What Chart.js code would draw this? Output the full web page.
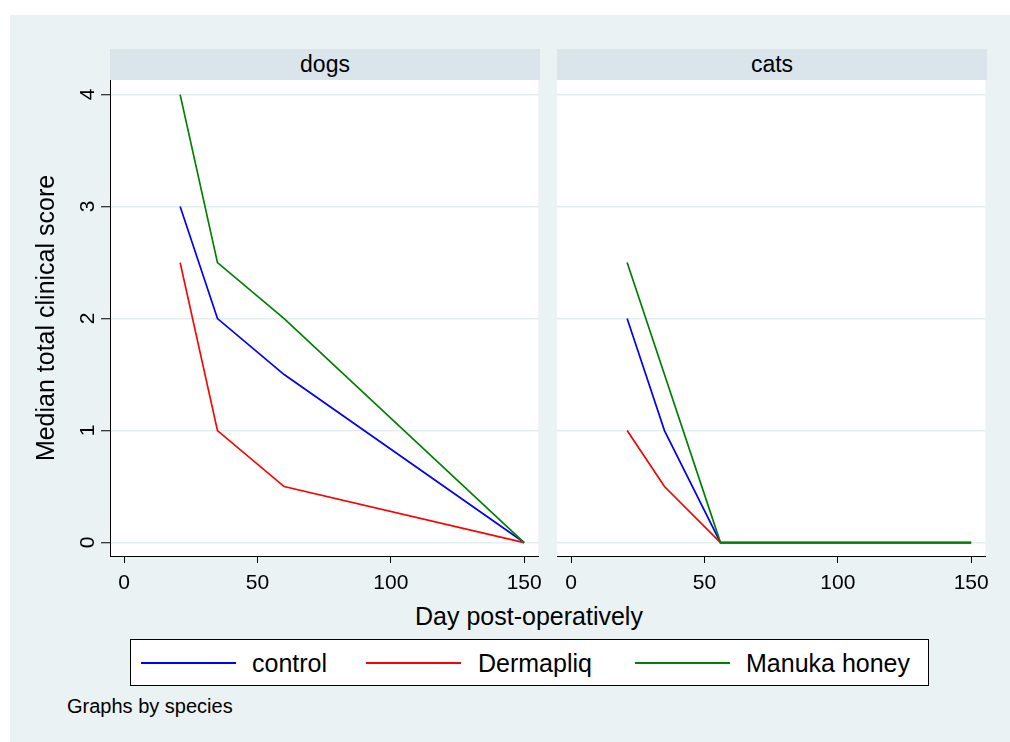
<!DOCTYPE html>
<html>
<head>
<meta charset="utf-8">
<script src="https://cdn.jsdelivr.net/npm/chart.js@4.4.1/dist/chart.umd.min.js"></script>
<style>
  body { margin: 0; background: #fff; font-family: "Liberation Sans", Arial, sans-serif; }
  #page { position: relative; width: 1010px; height: 742px; overflow: hidden; }
  #bg { position: absolute; left: 10px; top: 15px; width: 1000px; height: 727px; background: #EAF2F3; }
  .strip { position: absolute; top: 49px; height: 31px; background: #D9E5EA; color: #000;
           font-size: 23px; line-height: 31px; text-align: center; }
  .abs { position: absolute; white-space: nowrap; color: #000; }
  canvas { position: absolute; }
  #legend { position: absolute; left: 130px; top: 639px; width: 797px; height: 45px;
            background: #fff; border: 1px solid #000; }
  .sw { position: absolute; height: 2px; }
</style>
</head>
<body>
<div id="page">
  <div id="bg"></div>
  <div class="strip" style="left:110px;width:430px;" id="strip-dogs"></div>
  <div class="strip" style="left:557px;width:430px;" id="strip-cats"></div>
  <canvas id="dogs" width="530" height="556" style="left:20px;top:44px;width:530px;height:556px;"></canvas>
  <canvas id="cats" width="450" height="556" style="left:547px;top:44px;width:450px;height:556px;"></canvas>
  <div class="abs" id="xtitle" style="left:0;width:1058px;text-align:center;top:604px;font-size:25px;line-height:25px;"></div>
  <div id="legend"></div>
  <div class="abs" id="note" style="left:67px;top:696px;font-size:20px;line-height:20px;"></div>
</div>
<script>
// panels (by species)
const panels = ["dogs", "cats"];
const seriesNames = ["control", "Dermapliq", "Manuka honey"];
const seriesColors = ["#0000FF", "#FF0000", "#008000"];

// days post-op at which medians were taken
const dogDays = [21, 35, 60, 150];
const catDays = [21, 35, 56, 150];

// median total clinical score
const dogControl   = [3, 2, 1.5, 0];
const dogDermapliq = [2.5, 1, 0.5, 0];
const dogManuka    = [4, 2.5, 2, 0];

const catControl   = [2, 1, 0, 0];
const catDermapliq = [1, 0.5, 0, 0];
const catManuka    = [2.5, 1.5, 0, 0];

const xTicks = [0, 50, 100, 150];
const yTicks = [0, 1, 2, 3, 4];

const xTitle = "Day post-operatively";
const yTitle = "Median total clinical score";
const note = "Graphs by species";

const FONT = '"Liberation Sans", Arial, sans-serif';

// white plot region like stata's plotregion
const plotBg = {
  id: "plotBg",
  beforeDraw(chart) {
    const a = chart.chartArea;
    const c = chart.ctx;
    c.save();
    c.fillStyle = "#fff";
    c.fillRect(a.left, a.top, a.right - a.left, a.bottom - a.top);
    c.restore();
  }
};

function toPoints(xs, ys) {
  return xs.map((x, i) => ({ x: x, y: ys[i] }));
}

function makeDatasets(days, series) {
  return series.map((vals, i) => ({
    label: seriesNames[i],
    data: toPoints(days, vals),
    borderColor: seriesColors[i],
    borderWidth: 1.7,
    pointRadius: 0,
    tension: 0,
    fill: false,
    order: series.length - i   // later series on top, like stata
  }));
}

function makeChart(id, days, series, showY) {
  const ctx = document.getElementById(id).getContext("2d");
  return new Chart(ctx, {
    type: "line",
    data: { datasets: makeDatasets(days, series) },
    plugins: [plotBg],
    options: {
      responsive: false,
      animation: false,
      devicePixelRatio: 1,
      layout: { padding: { top: 36, right: 10, bottom: 0, left: showY ? 0 : 10 } },
      plugins: { legend: { display: false }, tooltip: { enabled: false } },
      scales: {
        x: {
          type: "linear",
          min: -5.3,
          max: 155.3,
          afterBuildTicks: s => { s.ticks = xTicks.map(v => ({ value: v })); },
          afterFit: s => { s.height = 44; },
          grid: { drawOnChartArea: false, color: "#000", tickColor: "#000", tickLength: 7, lineWidth: 1 },
          border: { display: true, color: "#000", width: 1 },
          ticks: { color: "#000", font: { family: FONT, size: 21 }, padding: 8, maxRotation: 0, autoSkip: false }
        },
        y: {
          type: "linear",
          min: -0.12,
          max: 4.13,
          afterBuildTicks: s => { s.ticks = yTicks.map(v => ({ value: v })); },
          afterFit: s => { s.width = showY ? 90 : 0; },
          grid: { color: "#E4EDF0", lineWidth: 1.5, drawTicks: showY, tickColor: "#000", tickLength: 9, tickWidth: 1 },
          border: { display: showY, color: "#000", width: 1 },
          ticks: {
            display: showY,
            color: "#000",
            font: { family: FONT, size: 21 },
            minRotation: 90,
            maxRotation: 90,
            padding: 13,
            labelOffset: -6
          },
          title: {
            display: showY,
            text: yTitle,
            color: "#000",
            font: { family: FONT, size: 25 },
            padding: { top: 12, bottom: 0 }
          }
        }
      }
    }
  });
}

document.getElementById("strip-dogs").textContent = panels[0];
document.getElementById("strip-cats").textContent = panels[1];
document.getElementById("xtitle").textContent = xTitle;
document.getElementById("note").textContent = note;

// legend: line swatch + label, positions as in the stata legend box
const legend = document.getElementById("legend");
const swLeft = [10, 235, 504];
const txtLeft = [121, 347, 615];
seriesNames.forEach((name, i) => {
  const sw = document.createElement("div");
  sw.className = "sw";
  sw.style.left = swLeft[i] + "px";
  sw.style.width = "95px";
  sw.style.top = "22px";
  sw.style.background = seriesColors[i];
  legend.appendChild(sw);
  const t = document.createElement("div");
  t.className = "abs";
  t.style.left = txtLeft[i] + "px";
  t.style.top = "11px";
  t.style.fontSize = "25px";
  t.style.lineHeight = "25px";
  t.textContent = name;
  legend.appendChild(t);
});

makeChart("dogs", dogDays, [dogControl, dogDermapliq, dogManuka], true);
makeChart("cats", catDays, [catControl, catDermapliq, catManuka], false);
</script>
</body>
</html>
